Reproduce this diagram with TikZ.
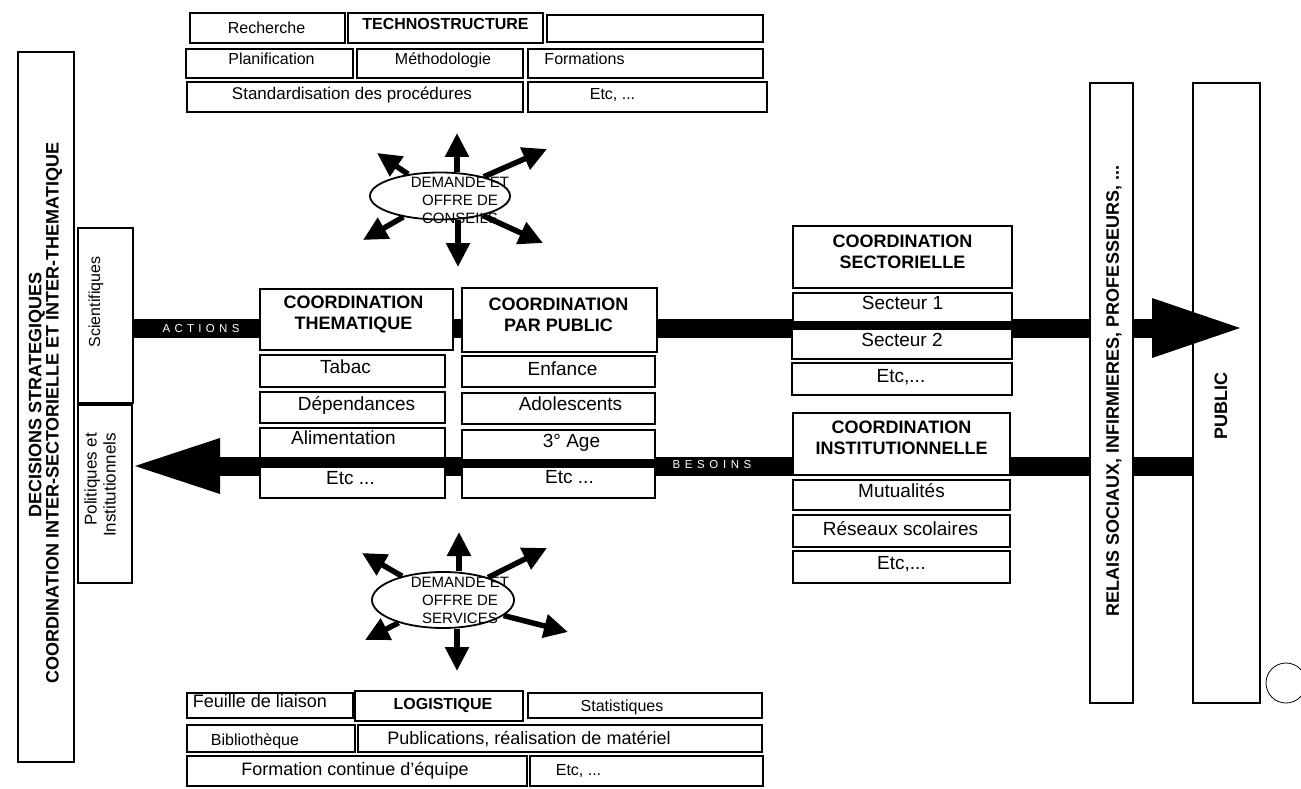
\documentclass[tikz,border=0pt]{standalone}
\usepackage{fontspec}
\setmainfont{Liberation Sans}
\usetikzlibrary{arrows.meta,shapes.geometric,calc}
\pgfdeclarelayer{background}
\pgfsetlayers{background,main}
\newcommand\fs[2]{\fontsize{#1}{#2}\selectfont}
\tikzset{
  box/.style={draw, line width=1.8pt, fill=white, inner sep=0pt, rectangle},
  txt/.style={inner sep=0pt, text height=12pt, text depth=0pt},
  r16/.style={txt, font=\fs{16}{19}},
  r17/.style={txt, font=\fs{17}{20}},
  r18/.style={txt, font=\fs{18}{21}},
  r19/.style={txt, font=\fs{19}{22}},
  b16/.style={txt, font=\bfseries\fs{16}{19}},
  hdr/.style={inner sep=0pt, align=center, font=\bfseries\fs{18}{21}},
  bar/.style={line width=19pt, black},
  spoke/.style={line width=5.5pt, -{Triangle[length=24pt,width=23pt]}},
  bubble/.style={draw, ellipse, line width=1.8pt, fill=white, inner sep=0pt},
  btxt/.style={inner sep=0pt, align=center, font=\fs{15}{18}},
  vlab/.style={inner sep=0pt, rotate=90, font=\bfseries\fs{18}{21}},
  bartxt/.style={inner sep=0pt, text=white, font=\fs{11.5}{13}},
}
% name, x1, y1, x2, y2, text style, dx, dy, text
\newcommand\bx[9]{%
  \pgfmathsetmacro\bxw{#4-#2}%
  \pgfmathsetmacro\bxh{#5-#3}%
  \node[box, minimum width=\bxw pt, minimum height=\bxh pt] (#1) at ({(#2+#4)/2},{(#3+#5)/2}) {};
  \node[#6] (#1t) at ([shift={(#7,#8)}]#1.center) {#9};
}
\begin{document}
\begin{tikzpicture}[x=1pt,y=-1pt]
\useasboundingbox (0,0) rectangle (1301,789);

% ---------- TECHNOSTRUCTURE ----------
\bx{rech}{190}{13}{345}{43}{r16}{-1}{0}{Recherche}
\bx{techno}{348}{13}{543}{43}{b16}{0}{-4}{TECHNOSTRUCTURE}
\bx{vide}{547}{15}{763}{42}{r16}{0}{0}{}
\bx{planif}{186}{49}{353}{78}{r16}{2}{-5}{Planification}
\bx{metho}{357}{49}{523}{78}{r16}{3}{-5}{Méthodologie}
\bx{formations}{528}{49}{763}{78}{r16}{-61}{-5}{Formations}
\bx{stand}{187}{82}{523}{112}{r17}{-3}{-3}{Standardisation des procédures}
\bx{etcA}{528}{82}{767}{112}{r16}{-35}{-3}{Etc, ...}

% ---------- left vertical boxes ----------
\node[box, minimum width=56pt, minimum height=710pt] (dec) at (46,407) {};
\node[vlab, align=center, font=\bfseries\fs{18}{15.5}] (dect) at (45.5,413)
  {\hspace*{36pt}DECISIONS STRATEGIQUES\\COORDINATION INTER-SECTORIELLE ET INTER-THEMATIQUE};
\node[box, minimum width=55pt, minimum height=175pt] (sci) at (105.5,315.5) {};
\node[rotate=90, inner sep=0pt, font=\fs{16}{19}] (scit) at (96,302) {Scientifiques};
\node[box, minimum width=54pt, minimum height=178pt] (pol) at (105,494) {};
\node[rotate=90, inner sep=0pt, align=right, font=\fs{17}{19}] (polt) at (100,485) {Politiques et\\Institutionnels};

% ---------- right vertical boxes ----------
\node[box, minimum width=43pt, minimum height=620pt] (relais) at (1111.5,393) {};
\node[vlab] (relaist) at (1114,391) {RELAIS SOCIAUX, INFIRMIERES, PROFESSEURS, ...};
\node[draw, line width=1.8pt, inner sep=0pt, minimum width=67pt, minimum height=620pt] (public) at (1226.5,393) {};
\node[vlab] (publict) at (1221,406) {PUBLIC};

% ---------- main arrows (behind the boxes) ----------
\coordinate (actBase) at (1152,328);
\coordinate (actTip) at (1240,328);
\coordinate (besBase) at (220,466);
\coordinate (besTip) at (135,466);
\begin{pgfonlayer}{background}
  \fill[white] (0,0) rectangle (1301,789);
  \draw[bar] (sci.east |- actBase) -- (actBase);
  \fill ($(actBase)+(0,-30)$) -- (actTip) -- ($(actBase)+(0,30)$) -- cycle;
  \draw[bar] (besBase) -- (public.west |- besBase);
  \fill ($(besBase)+(0,-28)$) -- (besTip) -- ($(besBase)+(0,28)$) -- cycle;
\end{pgfonlayer}
\node[bartxt] (actions) at (201,329) {A\kern4.3pt C\kern4.3pt T\kern4.3pt I\kern4.3pt O\kern4.3pt N\kern4.3pt S};
\node[bartxt] (besoins) at (712,465) {B\kern4.6pt E\kern4.6pt S\kern4.6pt O\kern4.6pt I\kern4.6pt N\kern4.6pt S};

% ---------- coordination thematique ----------
\bx{them}{260}{289}{453}{350}{hdr}{-3}{-5}{COORDINATION\\THEMATIQUE}
\bx{tabac}{260}{355}{445}{387}{r19}{-7}{-4}{Tabac}
\bx{dep}{260}{392}{445}{423}{r19}{4}{-3}{Dépendances}
\bx{alim}{260}{428}{445}{458}{r19}{-9}{-5}{Alimentation}
\bx{etcB}{260}{467}{445}{498}{r19}{-2}{-4}{Etc ...}

% ---------- coordination par public ----------
\bx{parpub}{462}{288}{657}{352}{hdr}{-1}{-5}{COORDINATION\\PAR PUBLIC}
\bx{enf}{462}{356}{655}{387}{r19}{4}{-2}{Enfance}
\bx{ado}{462}{393}{655}{424}{r19}{12}{-4}{Adolescents}
\bx{age}{462}{430}{655}{460}{r19}{13}{-4}{3° Age}
\bx{etcC}{462}{467}{655}{498}{r19}{11}{-5}{Etc ...}

% ---------- coordination sectorielle ----------
\bx{sect}{793}{226}{1012}{288}{hdr}{0}{-5}{COORDINATION\\SECTORIELLE}
\bx{sa}{793}{293}{1012}{322}{r19}{0}{-4}{Secteur 1}
\bx{sb}{792}{329}{1012}{359}{r19}{0}{-4}{Secteur 2}
\bx{etcD}{792}{363}{1012}{395}{r19}{-1}{-3}{Etc,...}

% ---------- coordination institutionnelle ----------
\bx{inst}{793}{413}{1010}{475}{hdr}{0}{-6}{COORDINATION\\INSTITUTIONNELLE}
\bx{mut}{793}{480}{1010}{510}{r19}{0}{-4}{Mutualités}
\bx{res}{793}{515}{1010}{547}{r19}{-1}{-2}{Réseaux scolaires}
\bx{etcE}{793}{551}{1010}{583}{r19}{0}{-4}{Etc,...}

% ---------- LOGISTIQUE ----------
\bx{feuil}{187}{693}{353}{718}{r18}{-10}{-4}{Feuille de liaison}
\bx{logis}{355}{691}{523}{721}{b16}{4}{-3}{LOGISTIQUE}
\bx{stat}{528}{693}{762}{718}{r16}{-23}{0}{Statistiques}
\bx{biblio}{187}{725}{355}{752}{r16}{-16}{1}{Bibliothèque}
\bx{publi}{358}{725}{762}{752}{r18}{-31}{0}{Publications, réalisation de matériel}
\bx{fcont}{187}{756}{527}{786}{r18}{-2}{-2}{Formation continue d'équipe}
\bx{etcF}{530}{756}{763}{786}{r16}{-68}{-2}{Etc, ...}

% ---------- conseils ----------
\node[bubble, minimum width=140pt, minimum height=47pt] (cons) at (440,196) {};
\coordinate (cU) at (457,133);
\coordinate (cD) at (458,267);
\coordinate (cUL) at (377,153);
\coordinate (cUR) at (547,149);
\coordinate (cLL) at (363,240);
\coordinate (cLR) at (543,243);
\draw[spoke] (cU |- cons.north) -- (cU);
\draw[spoke] (cD |- cons.south) -- (cD);
\draw[spoke] (cons) -- (cUL);
\draw[spoke] (cons) -- (cUR);
\draw[spoke] (cons) -- (cLL);
\draw[spoke] (cons) -- (cLR);
\node[btxt] (const) at (460,200) {DEMANDE ET\\OFFRE DE\\CONSEILS};

% ---------- services ----------
\node[bubble, minimum width=142pt, minimum height=56pt] (serv) at (443,600) {};
\coordinate (sU) at (459,532);
\coordinate (sD) at (457,671);
\coordinate (sUL) at (362,553);
\coordinate (sUR) at (547,548);
\coordinate (sLL) at (365,640);
\coordinate (sLR) at (568,632);
\draw[spoke] (sU |- serv.north) -- (sU);
\draw[spoke] (sD |- serv.south) -- (sD);
\draw[spoke] (serv) -- (sUL);
\draw[spoke] (serv) -- (sUR);
\draw[spoke] (serv) -- (sLL);
\draw[spoke] (serv) -- (sLR);
\node[btxt] (servt) at (460,600) {DEMANDE ET\\OFFRE DE\\SERVICES};

% ---------- punch hole mark ----------
\draw[line width=0.8pt] (1286,683) circle[radius=20pt];
\end{tikzpicture}
\end{document}
